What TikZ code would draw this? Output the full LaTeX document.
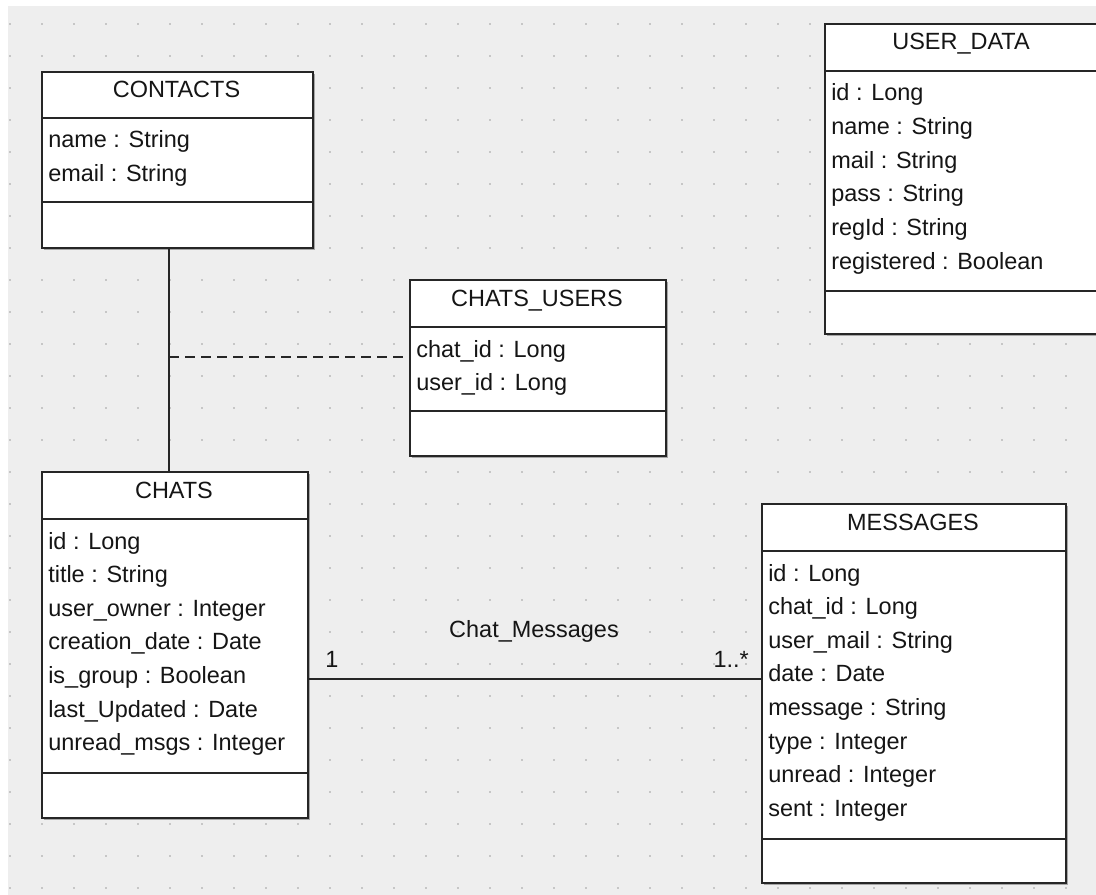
\documentclass[tikz,border=0pt]{standalone}
\usepackage{fontspec}
\setmainfont{Liberation Sans}
\usetikzlibrary{shadows}

\definecolor{canvas}{HTML}{EEEEEE}
\definecolor{griddot}{HTML}{C6C6C6}
\definecolor{ink}{HTML}{262626}
\definecolor{textink}{HTML}{151515}

\tikzset{
  umlfont/.style={font=\fontsize{17.6}{20}\selectfont},
  classbox/.style={draw=ink, line width=1.5pt, fill=white, inner sep=0pt,
    drop shadow={shadow xshift=1.8pt, shadow yshift=-1.8pt, opacity=0.3, fill=black}},
  rule/.style={draw=ink, line width=1.5pt},
  classtitle/.style={umlfont, inner sep=0pt, anchor=base, text=textink},
  attr/.style={umlfont, inner sep=0pt, anchor=base west, text=textink},
  link/.style={draw=ink, line width=1.5pt},
  dashlink/.style={draw=ink, line width=1.5pt, dash pattern=on 7.5pt off 4.5pt},
  rolelabel/.style={umlfont, inner sep=0pt, anchor=base, text=textink},
}

% #1 node name, #2 class title, #3 left, #4 right, #5 top,
% #6 header rule, #7 operations rule, #8 bottom, #9 attribute list
\newcommand\umlclass[9]{%
  \node[classbox, anchor=north west,
        minimum width={(#4-#3)*0.75pt}, minimum height={(#8-#5)*0.75pt}] (#1) at (#3,#5) {};
  \draw[rule] (#3,#6) -- (#4,#6);
  \draw[rule] (#3,#7) -- (#4,#7);
  \node[classtitle] (#1-title) at ({(#3+#4)/2},#5+27) {#2};
  \foreach \a [count=\i from 0] in {#9}
    \node[attr] (#1-attr-\i) at (#3+7, #6+30+33.6*\i) {\a};
}

\begin{document}
\begin{tikzpicture}[x=0.75pt, y=-0.75pt]
  \useasboundingbox (0,0) rectangle (1096,895);
  \fill[white] (0,0) rectangle (1096,895);
  \fill[canvas] (8,6) rectangle (1096,895);

  % dotted drawing grid
  \foreach \gx in {0,...,33}
    \foreach \gy in {0,...,27}
      \fill[griddot] (9+32*\gx, 23+32*\gy) rectangle ++(2,2);

  % link positions
  \coordinate (stem) at (169,0);
  \coordinate (assocmid) at (169,357);
  \coordinate (assoc) at (0,679);

  \begin{scope}
    \clip (0,0) rectangle (1096,895);

    \umlclass{contacts}{CONTACTS}{41}{312}{71}{118}{202}{247}
      {name : String, email : String}

    \umlclass{chatsusers}{CHATS\_USERS}{409}{665}{279}{327}{411}{455}
      {chat\_id : Long, user\_id : Long}

    \umlclass{userdata}{USER\_DATA}{824}{1098}{23}{71}{291}{333}
      {id : Long, name : String, mail : String, pass : String, regId : String, registered : Boolean}

    \umlclass{chats}{CHATS}{41}{307}{471}{519}{773}{817}
      {id : Long, title : String, user\_owner : Integer, creation\_date : Date,
       is\_group : Boolean, last\_Updated : Date, unread\_msgs : Integer}

    \umlclass{messages}{MESSAGES}{761}{1065}{503}{551}{839}{882}
      {id : Long, chat\_id : Long, user\_mail : String, date : Date,
       message : String, type : Integer, unread : Integer, sent : Integer}
  \end{scope}

  % CONTACTS -- CHATS with association class CHATS_USERS
  \draw[link] (contacts.south -| stem) -- (chats.north -| stem);
  \draw[dashlink] (assocmid) -- (chatsusers.west |- assocmid);

  % CHATS 1 -- 1..* MESSAGES
  \draw[link] (chats.east |- assoc) -- (messages.west |- assoc);
  \node[rolelabel] (assocname) at (534,637) {Chat\_Messages};
  \node[rolelabel] (mult-chats) at (332,667) {1};
  \node[rolelabel, anchor=base east] (mult-messages) at (749,667) {1..*};
\end{tikzpicture}
\end{document}
